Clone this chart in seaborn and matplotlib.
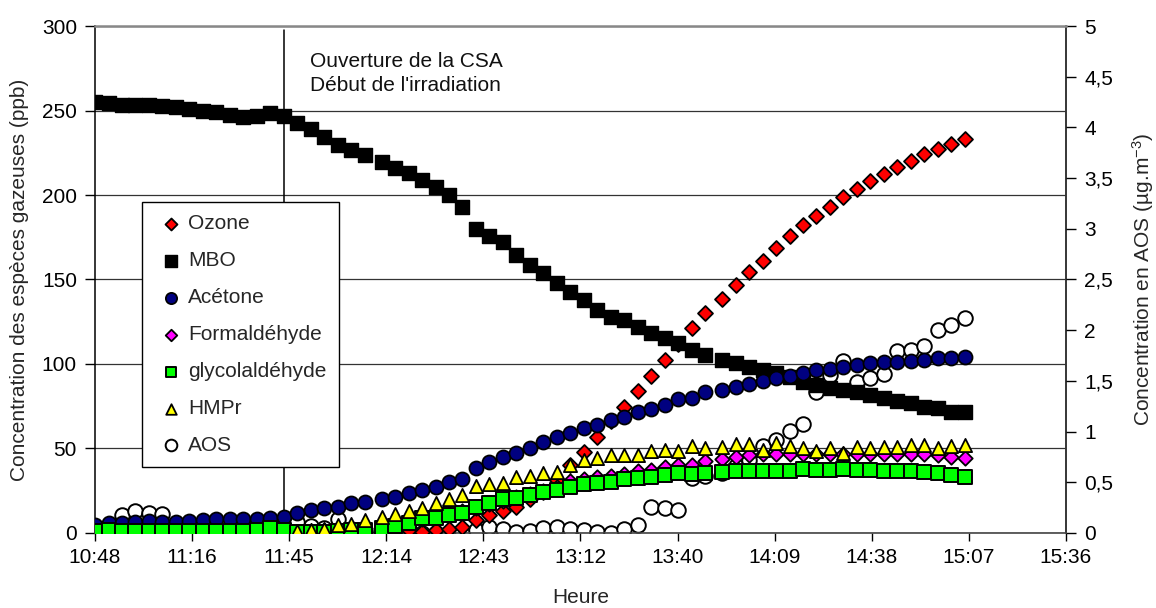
import numpy as np
import pandas as pd
import matplotlib
matplotlib.use("Agg")
import matplotlib.pyplot as plt
import seaborn as sns

nan = np.nan

# ---------------- data ----------------
times = ["10:48", "10:52", "10:56", "11:00", "11:04", "11:08", "11:12", "11:16", "11:20", "11:24",
         "11:28", "11:32", "11:36", "11:40", "11:44", "11:48", "11:52", "11:56", "12:00", "12:04",
         "12:08", "12:13", "12:17", "12:21", "12:25", "12:29", "12:33", "12:37", "12:41", "12:45",
         "12:49", "12:53", "12:57", "13:01", "13:05", "13:09", "13:13", "13:17", "13:21", "13:25",
         "13:29", "13:33", "13:37", "13:41", "13:45", "13:49", "13:54", "13:58", "14:02", "14:06",
         "14:10", "14:14", "14:18", "14:22", "14:26", "14:30", "14:34", "14:38", "14:42", "14:46",
         "14:50", "14:54", "14:58", "15:02", "15:06"]

ozone = [0.5, 0.5, 0.5, 0.5, 0.5, 0.5, 0.5, 0.5, 0.5, 0.5,
         0.5, 0.5, 0.5, 0.5, 0.5, 0.3, 0.3, 0.3, 0.3, 0.5,
         0.5, 0.8, 1.0, 1.8, 0.8, 1.8, 2.6, 3.6, 7.7, 10.7,
         13.0, 15.6, 20.0, 24.0, 31.4, 40.0, 48.1, 57.0, 66.0, 74.7,
         83.8, 93.1, 102.6, 112.0, 121.1, 130.0, 138.7, 147.0, 154.6, 161.1,
         168.5, 175.7, 182.2, 187.6, 192.7, 198.6, 203.6, 208.5, 212.4, 216.4,
         220.3, 224.3, 227.2, 230.2, 233.0]

mbo = [255.0, 254.5, 253.5, 253.0, 253.0, 252.5, 252.0, 251.0, 250.0, 249.0,
       247.5, 246.0, 247.0, 248.5, 247.0, 242.4, 238.9, 234.5, 229.6, 226.6,
       223.7, 219.7, 215.8, 212.8, 208.9, 204.9, 200.0, 193.0, 180.0, 176.0,
       172.4, 164.5, 158.6, 153.7, 148.1, 142.8, 137.9, 132.0, 128.0, 126.0,
       122.0, 118.2, 115.2, 112.2, 108.3, 105.3, 102.4, 100.4, 98.4, 96.4,
       94.5, 92.5, 89.5, 87.6, 85.6, 84.6, 83.6, 81.7, 79.7, 78.3,
       76.7, 74.7, 73.8, 71.8, 71.8]

acetone = [4.7, 5.7, 6.1, 6.7, 7.1, 6.7, 6.7, 7.1, 7.7, 8.1,
           8.1, 8.1, 8.1, 8.7, 9.7, 11.6, 13.6, 14.6, 15.6, 17.6,
           18.5, 19.9, 21.5, 23.9, 25.4, 27.4, 30.0, 32.0, 38.3, 41.8,
           44.8, 47.2, 50.1, 53.7, 56.6, 59.4, 61.9, 63.9, 66.9, 68.8,
           71.8, 73.4, 75.7, 79.1, 79.7, 83.6, 84.6, 86.6, 88.2, 89.9,
           91.5, 92.9, 94.9, 96.4, 97.0, 98.4, 99.4, 100.4, 101.0, 101.4,
           101.8, 102.4, 103.7, 103.7, 104.0]

formaldehyde = [nan, nan, nan, nan, nan, nan, nan, nan, nan, nan,
                nan, nan, nan, nan, nan, 0.5, 1.0, 1.5, 2.0, 2.5,
                3.0, 4.0, 5.0, 6.5, 8.0, 9.5, 11.0, 13.0, 15.0, 17.0,
                19.0, 21.0, 23.0, 25.0, 27.0, 31.0, 32.0, 33.0, 34.0, 35.0,
                36.5, 37.5, 39.0, 40.0, 40.5, 42.5, 44.0, 45.0, 46.0, 46.5,
                47.0, 47.0, 47.0, 47.0, 47.0, 47.0, 47.0, 47.0, 47.0, 47.0,
                47.0, 46.5, 46.0, 45.2, 44.2]

glycolaldehyde = [1.0, 1.5, 1.0, 1.2, 1.3, 1.2, 1.0, 1.0, 1.2, 1.0,
                  1.0, 1.3, 1.5, 3.0, 1.8, 0.5, 0.5, 0.8, 1.0, 1.5,
                  2.0, 3.0, 4.0, 6.0, 8.7, 8.7, 10.7, 12.0, 15.6, 17.9,
                  19.9, 20.5, 22.5, 24.4, 25.4, 27.4, 29.0, 29.8, 30.4, 31.8,
                  32.4, 33.0, 34.3, 35.3, 34.8, 35.3, 36.3, 36.9, 36.9, 36.9,
                  36.9, 36.9, 37.7, 37.3, 37.3, 37.9, 37.3, 37.3, 36.9, 36.9,
                  36.9, 36.3, 35.7, 34.3, 33.3]

hmpr = [nan, nan, nan, nan, nan, nan, nan, nan, nan, nan,
        nan, nan, nan, nan, nan, 1.4, 1.8, 2.2, 4.7, 5.3,
        7.7, 9.3, 11.2, 13.0, 14.6, 17.9, 19.9, 22.5, 27.8, 29.0,
        29.4, 33.3, 33.7, 35.7, 36.3, 40.2, 43.2, 44.2, 46.2, 46.2,
        46.2, 48.7, 49.1, 48.7, 51.3, 50.1, 51.1, 52.7, 52.7, 49.1,
        53.4, 51.5, 50.1, 48.7, 50.1, 47.5, 50.7, 50.1, 51.1, 51.1,
        52.1, 52.1, 50.1, 51.5, 52.1]

aos = [nan, 0.08, 0.18, 0.22, 0.20, 0.19, 0.06, 0.05, 0.05, 0.05,
       0.06, 0.06, 0.07, 0.08, 0.12, 0.11, 0.07, 0.05, 0.135, 0.04,
       0.02, 0.02, 0.03, 0.03, 0.0, 0.0, 0.0, 0.01, 0.03, 0.06,
       0.04, 0.01, 0.02, 0.05, 0.06, 0.04, 0.03, 0.01, 0.0, 0.04,
       0.08, 0.26, 0.25, 0.23, 0.54, 0.56, 0.59, 0.66, 0.72, 0.86,
       0.92, 1.01, 1.07, 1.39, 1.56, 1.70, 1.49, 1.53, 1.57, 1.79,
       1.80, 1.84, 2.00, 2.05, 2.12]

x_tick_labels = ["10:48", "11:16", "11:45", "12:14", "12:43", "13:12",
                 "13:40", "14:09", "14:38", "15:07", "15:36"]
left_ticks = [0, 50, 100, 150, 200, 250, 300]
right_ticks = [0, 0.5, 1, 1.5, 2, 2.5, 3, 3.5, 4, 4.5, 5]
right_tick_labels = ["0", "0,5", "1", "1,5", "2", "2,5", "3", "3,5", "4", "4,5", "5"]

irradiation_time = "11:44"
annotation_text = "Ouverture de la CSA\nDébut de l'irradiation"

left_label = "Concentration des espèces gazeuses (ppb)"
right_label = "Concentration en AOS (µg.m$^{-3}$)"
x_label = "Heure"


def to_minutes(s):
    h, m = s.split(":")
    return int(h) * 60 + int(m)


df = pd.DataFrame({
    "t": [to_minutes(s) for s in times],
    "Ozone": ozone,
    "MBO": mbo,
    "Acétone": acetone,
    "Formaldéhyde": formaldehyde,
    "glycolaldéhyde": glycolaldehyde,
    "HMPr": hmpr,
    "AOS": aos,
})

# ---------------- style ----------------
sns.set_theme(style="white")
plt.rcParams["font.family"] = ["Liberation Sans", "DejaVu Sans"]
plt.rcParams["mathtext.fontset"] = "custom"
plt.rcParams["mathtext.rm"] = "Liberation Sans"
plt.rcParams["mathtext.it"] = "Liberation Sans:italic"
plt.rcParams["mathtext.default"] = "rm"

FS = 15

fig = plt.figure(figsize=(11.56, 6.08), dpi=100)
fig.patch.set_facecolor("white")
ax = fig.add_subplot(111)
fig.subplots_adjust(left=0.0822, right=0.9221, top=0.9572, bottom=0.1234)
ax2 = ax.twinx()

series_style = [
    ("Ozone", "D", "#FF0000", 58, 1.3),
    ("MBO", "s", "#000000", 112, 1.0),
    ("Acétone", "o", "#000080", 102, 1.3),
    ("Formaldéhyde", "D", "#FF00FF", 54, 1.3),
    ("glycolaldéhyde", "s", "#00FF00", 88, 1.4),
    ("HMPr", "^", "#FFFF00", 90, 1.3),
]

for k, (name, mk, col, size, lw) in enumerate(series_style):
    sns.scatterplot(data=df, x="t", y=name, ax=ax, marker=mk, color=col,
                    edgecolor="black", linewidth=lw, s=size, label=name,
                    zorder=3 + k, legend=False)

sns.scatterplot(data=df, x="t", y="AOS", ax=ax2, marker="o", color="white",
                edgecolor="black", linewidth=1.4, s=110, label="AOS",
                zorder=3, legend=False)

# primary axes drawn above the secondary one
ax.set_zorder(ax2.get_zorder() + 1)
ax.patch.set_visible(False)
ax2.patch.set_visible(True)
ax2.patch.set_facecolor("white")

# vertical marker line
ax.axvline(to_minutes(irradiation_time), ymin=0, ymax=0.992, color="black", lw=1.1, zorder=1)
ax.text(to_minutes(irradiation_time) + 7.8, 284.5, annotation_text, ha="left", va="top",
        fontsize=FS, linespacing=1.3, color="#111111")

# axes limits & ticks
x0 = to_minutes(x_tick_labels[0])
step = 28.8
ax.set_xlim(x0, x0 + step * 10)
ax.set_xticks([x0 + step * i for i in range(len(x_tick_labels))])
ax.set_xticklabels(x_tick_labels)
ax.set_ylim(0, 300)
ax.set_yticks(left_ticks)
ax.set_yticklabels([str(v) for v in left_ticks])
ax2.set_ylim(0, 5)
ax2.set_yticks(right_ticks)
ax2.set_yticklabels(right_tick_labels)

ax.yaxis.grid(True, color="#333333", lw=0.9)
ax.xaxis.grid(False)
ax2.grid(False)

ax.tick_params(axis="y", direction="out", length=7, width=1, labelsize=FS, pad=6,
               left=True, right=False, colors="black")
ax.tick_params(axis="x", direction="out", length=6, width=1, labelsize=FS, pad=5,
               bottom=True, colors="black")
ax2.tick_params(axis="y", direction="out", length=7, width=1, labelsize=FS, pad=6,
                right=True, colors="black")

for side in ["left", "right", "top", "bottom"]:
    ax.spines[side].set_visible(False)
    ax2.spines[side].set_visible(False)
ax.spines["left"].set_visible(True)
ax.spines["left"].set_color("black")
ax.spines["left"].set_linewidth(1.1)
ax.spines["bottom"].set_visible(True)
ax.spines["bottom"].set_color("#444444")
ax.spines["bottom"].set_linewidth(1.2)
ax.spines["top"].set_visible(True)
ax.spines["top"].set_color("#888888")
ax.spines["top"].set_linewidth(1.8)
ax2.spines["right"].set_visible(True)
ax2.spines["right"].set_color("black")
ax2.spines["right"].set_linewidth(1.1)

ax.set_xlabel(x_label, fontsize=FS)
ax.set_ylabel(left_label, fontsize=FS)
ax2.set_ylabel(right_label, fontsize=FS)
ax.xaxis.set_label_coords(0.5, -0.108)
ax.yaxis.set_label_coords(-0.068, 0.5)
ax2.yaxis.set_label_coords(1.066, 0.5)

# legend
h1, l1 = ax.get_legend_handles_labels()
h2, l2 = ax2.get_legend_handles_labels()
leg = ax.legend(h1 + h2, l1 + l2, loc="upper left", bbox_to_anchor=(0.0484, 0.653),
                borderaxespad=0, fontsize=FS, frameon=True, fancybox=False, shadow=False,
                framealpha=1, edgecolor="black", markerscale=0.8, handlelength=1.55,
                handletextpad=0.05, labelspacing=0.86, borderpad=0.6)
leg.get_frame().set_linewidth(1.0)
leg.set_zorder(20)

fig.savefig("out.png", dpi=100, facecolor="white")
